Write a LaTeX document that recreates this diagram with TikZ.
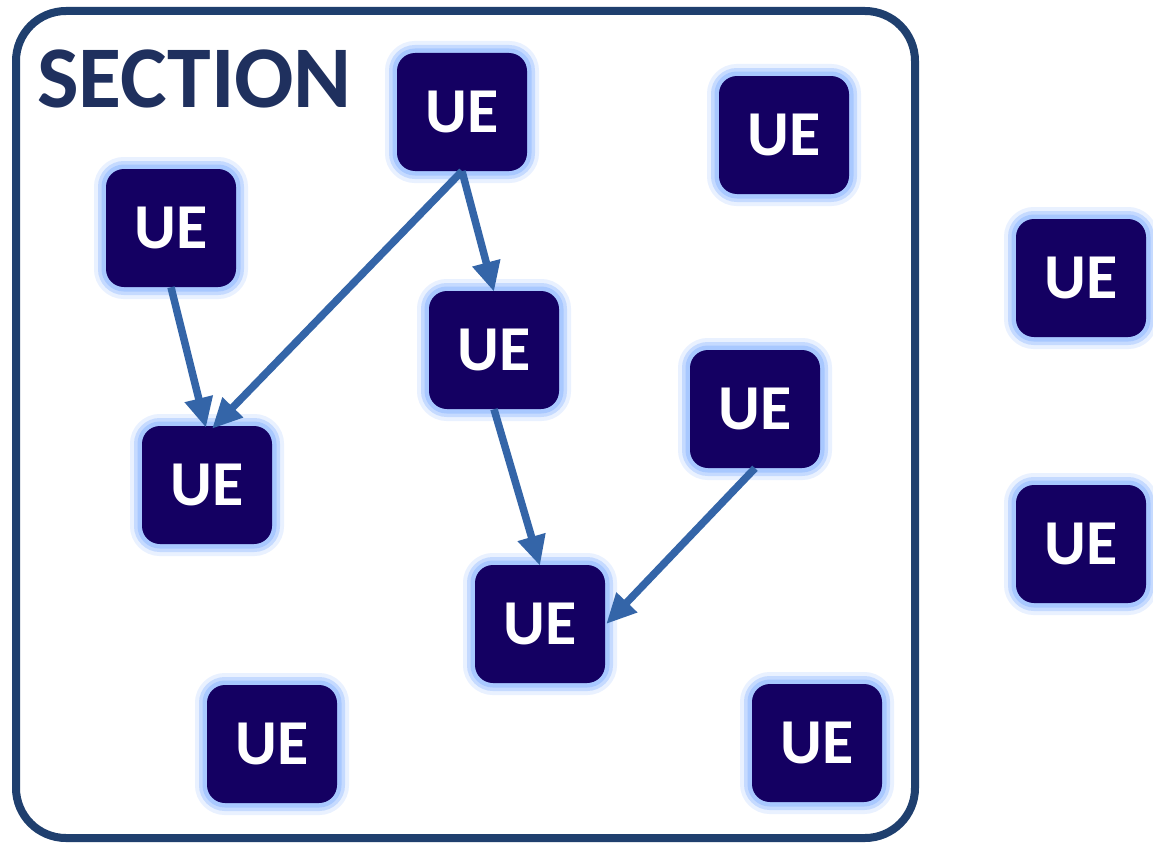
\documentclass[tikz,border=0pt]{standalone}
\usepackage{fontspec}
\setmainfont{Carlito}
\usetikzlibrary{arrows.meta}
\definecolor{framec}{HTML}{1F3F6E}
\definecolor{titlec}{HTML}{1F305E}
\definecolor{uefill}{HTML}{140062}
\definecolor{glowc}{HTML}{A8C8FF}
\definecolor{arrowc}{HTML}{3465A8}
\tikzset{
  uebox/.style={
    fill=uefill, rounded corners=18pt, minimum width=130pt, minimum height=118pt,
    inner sep=0pt, text=white, font=\bfseries\fontsize{64}{64}\selectfont,
    text depth=-6pt,
    preaction={draw=glowc, line width=24pt, draw opacity=0.25, rounded corners=18pt},
    preaction={draw=glowc, line width=16pt, draw opacity=0.55, rounded corners=18pt},
    preaction={draw=glowc, line width=9pt, draw opacity=1, rounded corners=18pt}
  },
  link/.style={draw=arrowc, line width=7.5pt, -{Triangle[length=30pt,width=27pt]}}
}
\begin{document}
\begin{tikzpicture}[x=1pt,y=-1pt]
\useasboundingbox (0,0) rectangle (1153,843);
\fill[white] (0,0) rectangle (1153,843);
\draw[framec, line width=8pt, rounded corners=50pt] (16,11) rectangle (915,838);
\node[anchor=base west, inner sep=0pt, text=titlec, font=\bfseries\fontsize{88}{88}\selectfont] (title) at (37,107) {SECTION};

\node[uebox] (top) at (462,112) {UE};
\node[uebox] (tr) at (784,135) {UE};
\node[uebox] (lf) at (171,228) {UE};
\node[uebox] (far1) at (1081,278) {UE};
\node[uebox] (mid) at (494,350) {UE};
\node[uebox] (rm) at (755,409) {UE};
\node[uebox] (ll) at (207,485) {UE};
\node[uebox] (far2) at (1081,544) {UE};
\node[uebox] (lm) at (540,624) {UE};
\node[uebox] (bl) at (272,744) {UE};
\node[uebox] (br) at (817,743) {UE};

\draw[link] (lf.south) -- ([xshift=-1pt,yshift=-2pt]ll.north);
\draw[link] (top.south) -- ([xshift=5pt,yshift=-3pt]ll.north);
\draw[link] (top.south) -- ([yshift=-1pt]mid.north);
\draw[link] (mid.south) -- ([yshift=-1pt]lm.north);
\draw[link] (rm.south) -- ([xshift=1pt]lm.east);
\end{tikzpicture}
\end{document}
